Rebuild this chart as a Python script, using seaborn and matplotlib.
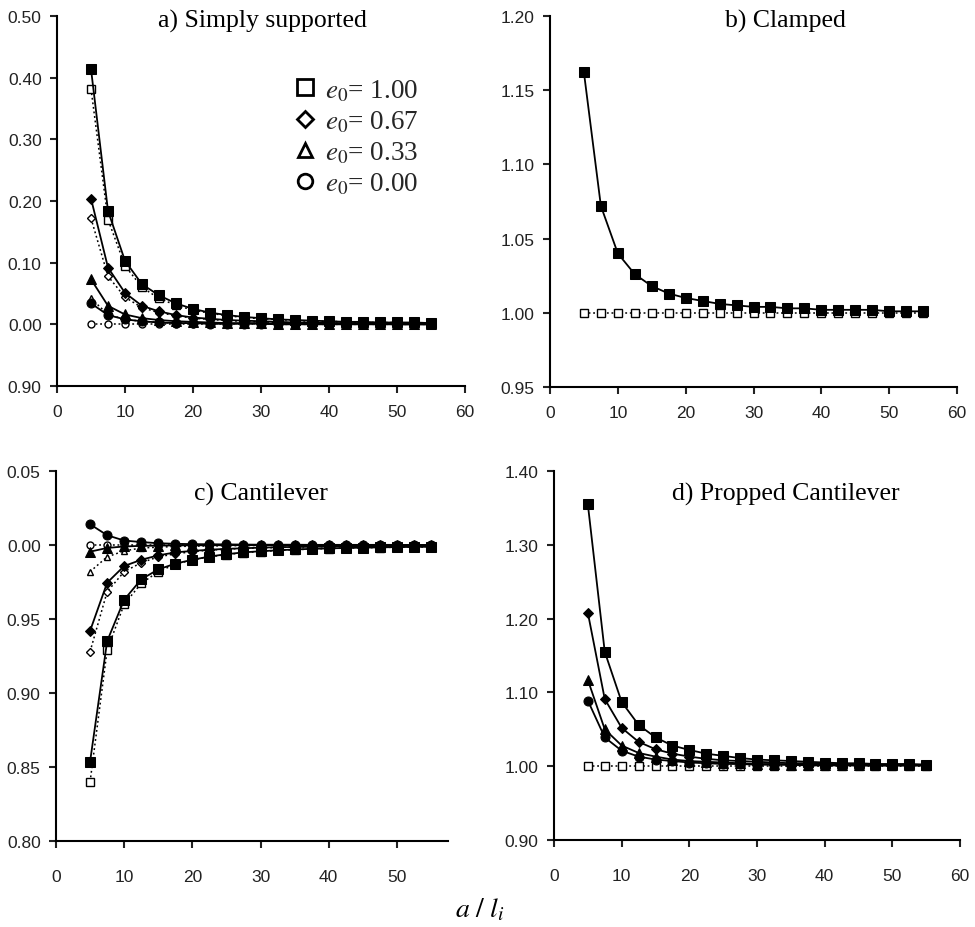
import numpy as np
import pandas as pd
import matplotlib
matplotlib.use("Agg")
import matplotlib.pyplot as plt
import seaborn as sns
from matplotlib.lines import Line2D

sns.set_style("ticks")
plt.rcParams['font.family'] = ['Liberation Sans', 'DejaVu Sans']
plt.rcParams['mathtext.fontset'] = 'stix'

x = [5, 7.5, 10, 12.5, 15, 17.5, 20, 22.5, 25, 27.5, 30, 32.5, 35, 37.5, 40, 42.5, 45, 47.5, 50, 52.5, 55]

# a) Simply supported
a_sq_f = [1.414, 1.184, 1.103, 1.065, 1.047, 1.034, 1.025, 1.019, 1.015, 1.012, 1.010, 1.008, 1.007, 1.006, 1.005, 1.004, 1.004, 1.003, 1.003, 1.003, 1.002]
a_sq_o = [1.382, 1.170, 1.095, 1.060, 1.042, 1.031, 1.023, 1.018, 1.014, 1.011, 1.009, 1.008, 1.006, 1.005, 1.005, 1.004, 1.003, 1.003, 1.003, 1.002, 1.002]
a_di_f = [1.204, 1.092, 1.051, 1.030, 1.021, 1.015, 1.011, 1.009, 1.007, 1.006, 1.005, 1.004, 1.003, 1.003, 1.002, 1.002, 1.002, 1.002, 1.001, 1.001, 1.001]
a_di_o = [1.172, 1.078, 1.044, 1.027, 1.019, 1.014, 1.010, 1.008, 1.006, 1.005, 1.004, 1.003, 1.003, 1.002, 1.002, 1.002, 1.002, 1.001, 1.001, 1.001, 1.001]
a_tr_f = [1.073, 1.030, 1.016, 1.010, 1.007, 1.005, 1.004, 1.003, 1.002, 1.002, 1.002, 1.001, 1.001, 1.001, 1.001, 1.001, 1.001, 1.001, 1.000, 1.000, 1.000]
a_tr_o = [1.042, 1.016, 1.008, 1.005, 1.003, 1.002, 1.002, 1.001, 1.001, 1.001, 1.001, 1.000, 1.000, 1.000, 1.000, 1.000, 1.000, 1.000, 1.000, 1.000, 1.000]
a_ci_f = [1.034, 1.015, 1.008, 1.005, 1.003, 1.002, 1.002, 1.001, 1.001, 1.001, 1.001, 1.000, 1.000, 1.000, 1.000, 1.000, 1.000, 1.000, 1.000, 1.000, 1.000]
a_ci_o = [1.000] * 21

# b) Clamped
b_sq_f = [1.162, 1.072, 1.040, 1.026, 1.018, 1.013, 1.010, 1.008, 1.006, 1.005, 1.004, 1.004, 1.003, 1.003, 1.002, 1.002, 1.002, 1.002, 1.001, 1.001, 1.001]
b_sq_o = [1.000] * 21

# c) Cantilever
c_ci_f = [1.014, 1.0066, 1.003, 1.002, 1.0012, 1.0008, 1.0006, 1.0005, 1.0004, 1.0003, 1.0002, 1.0002, 1.0002, 1.0001, 1.0001, 1.0001, 1.0001, 1.0001, 1.0001, 1.0000, 1.0000]
c_ci_o = [1.000] * 21
c_tr_f = [0.9955, 0.998, 0.999, 0.9994, 0.9996, 0.9997, 0.9998, 0.9998, 0.9999, 0.9999, 0.9999, 0.9999, 0.9999, 0.9999, 1.0, 1.0, 1.0, 1.0, 1.0, 1.0, 1.0]
c_tr_o = [0.982, 0.992, 0.996, 0.998, 0.9985, 0.999, 0.9992, 0.9994, 0.9995, 0.9996, 0.9997, 0.9997, 0.9998, 0.9998, 0.9998, 0.9999, 0.9999, 0.9999, 0.9999, 0.9999, 0.9999]
c_di_f = [0.942, 0.9745, 0.9858, 0.990, 0.993, 0.995, 0.996, 0.9968, 0.9974, 0.9978, 0.9982, 0.9985, 0.9987, 0.9988, 0.999, 0.9991, 0.9992, 0.9993, 0.9993, 0.9994, 0.9995]
c_di_o = [0.928, 0.9684, 0.982, 0.988, 0.992, 0.994, 0.9955, 0.9965, 0.9972, 0.9977, 0.998, 0.9983, 0.9986, 0.9987, 0.9989, 0.999, 0.9991, 0.9992, 0.9993, 0.9994, 0.9994]
c_sq_f = [0.8537, 0.935, 0.963, 0.9768, 0.9835, 0.9874, 0.990, 0.9922, 0.9938, 0.995, 0.9958, 0.9964, 0.997, 0.9974, 0.9977, 0.998, 0.9982, 0.9984, 0.9986, 0.9987, 0.9988]
c_sq_o = [0.840, 0.929, 0.960, 0.974, 0.982, 0.987, 0.990, 0.992, 0.9935, 0.9948, 0.9956, 0.9963, 0.9968, 0.9973, 0.9976, 0.9979, 0.9981, 0.9983, 0.9985, 0.9986, 0.9987]

# d) Propped Cantilever
d_sq_f = [1.355, 1.155, 1.087, 1.056, 1.039, 1.028, 1.022, 1.017, 1.014, 1.011, 1.009, 1.008, 1.007, 1.006, 1.005, 1.004, 1.004, 1.003, 1.003, 1.003, 1.002]
d_di_f = [1.208, 1.091, 1.052, 1.033, 1.023, 1.017, 1.013, 1.010, 1.008, 1.007, 1.006, 1.005, 1.004, 1.004, 1.003, 1.003, 1.002, 1.002, 1.002, 1.002, 1.002]
d_tr_f = [1.117, 1.050, 1.028, 1.018, 1.013, 1.009, 1.007, 1.006, 1.005, 1.004, 1.003, 1.003, 1.002, 1.002, 1.002, 1.002, 1.001, 1.001, 1.001, 1.001, 1.001]
d_ci_f = [1.089, 1.039, 1.021, 1.013, 1.009, 1.007, 1.005, 1.004, 1.003, 1.003, 1.002, 1.002, 1.002, 1.001, 1.001, 1.001, 1.001, 1.001, 1.001, 1.001, 1.001]
d_sq_o = [1.000] * 21

titles = ["a) Simply supported", "b) Clamped", "c) Cantilever", "d) Propped Cantilever"]
a_yticks = [0.90, 1.00, 1.10, 1.20, 1.30, 1.40, 1.50]
a_ylabels = ["0.90", "0.00", "0.10", "0.20", "0.30", "0.40", "0.50"]
b_yticks = [0.95, 1.00, 1.05, 1.10, 1.15, 1.20]
b_ylabels = ["0.95", "1.00", "1.05", "1.10", "1.15", "1.20"]
c_yticks = [0.80, 0.85, 0.90, 0.95, 1.00, 1.05]
c_ylabels = ["0.80", "0.85", "0.90", "0.95", "0.00", "0.05"]
d_yticks = [0.90, 1.00, 1.10, 1.20, 1.30, 1.40]
d_ylabels = ["0.90", "1.00", "1.10", "1.20", "1.30", "1.40"]
legend_labels = [r"$e_{\mathit{0}}$= 1.00", r"$e_{\mathit{0}}$= 0.67",
                 r"$e_{\mathit{0}}$= 0.33", r"$e_{\mathit{0}}$= 0.00"]

W, H = 975, 928
fig = plt.figure(figsize=(W / 100, H / 100), dpi=100)

def box(l, r, t, b):
    return [l / W, 1 - b / H, (r - l) / W, (b - t) / H]

axA = fig.add_axes(box(57, 465, 17, 387))
axB = fig.add_axes(box(550, 957, 17, 388))
axC = fig.add_axes(box(56, 448, 472, 842))
axD = fig.add_axes(box(554, 960, 472, 841))

msz = {'s': 7.5, 'D': 5.0, '^': 6.5, 'o': 6.5}
osz = {'s': 5.5, 'D': 4.0, '^': 5.0, 'o': 5.0}

def filled(ax, y, m):
    sns.lineplot(x=x, y=y, ax=ax, color='black', lw=1.3, marker=m, markersize=msz[m],
                 markerfacecolor='black', markeredgecolor='black', zorder=4)

def opened(ax, y, m):
    sns.lineplot(x=x, y=y, ax=ax, color='black', lw=1.1, linestyle=(0, (1.2, 1.8)), marker=m,
                 markersize=osz[m], markerfacecolor='white', markeredgecolor='black',
                 markeredgewidth=1.0, zorder=3)

for yv, m in [(a_ci_o, 'o'), (a_tr_o, '^'), (a_di_o, 'D'), (a_sq_o, 's')]:
    opened(axA, yv, m)
for yv, m in [(a_ci_f, 'o'), (a_tr_f, '^'), (a_di_f, 'D'), (a_sq_f, 's')]:
    filled(axA, yv, m)

opened(axB, b_sq_o, 's')
filled(axB, b_sq_f, 's')

for yv, m in [(c_ci_o, 'o'), (c_tr_o, '^'), (c_di_o, 'D'), (c_sq_o, 's')]:
    opened(axC, yv, m)
for yv, m in [(c_ci_f, 'o'), (c_tr_f, '^'), (c_di_f, 'D'), (c_sq_f, 's')]:
    filled(axC, yv, m)

opened(axD, d_sq_o, 's')
for yv, m in [(d_ci_f, 'o'), (d_tr_f, '^'), (d_di_f, 'D'), (d_sq_f, 's')]:
    filled(axD, yv, m)

cfg = [
    (axA, a_yticks, a_ylabels, (0.90, 1.50), (0, 60), [0, 10, 20, 30, 40, 50, 60], 8),
    (axB, b_yticks, b_ylabels, (0.95, 1.20), (0, 60), [0, 10, 20, 30, 40, 50, 60], 8),
    (axC, c_yticks, c_ylabels, (0.80, 1.05), (0, 57.5), [0, 10, 20, 30, 40, 50], 15),
    (axD, d_yticks, d_ylabels, (0.90, 1.40), (0, 60), [0, 10, 20, 30, 40, 50, 60], 15),
]
for ax, yt, yl, ylim, xlim, xt, xpad in cfg:
    ax.set_ylim(*ylim)
    ax.set_xlim(*xlim)
    ax.set_yticks(yt)
    ax.set_yticklabels(yl)
    ax.set_xticks(xt)
    ax.set_xticklabels([str(v) for v in xt])
    ax.set_xlabel("")
    ax.set_ylabel("")
    sns.despine(ax=ax)
    for s in ['left', 'bottom']:
        ax.spines[s].set_linewidth(1.5)
        ax.spines[s].set_color('black')
    ax.tick_params(axis='both', colors='#222222', labelsize=12.5, width=1.5, length=5)
    ax.tick_params(axis='x', pad=xpad)
    ax.tick_params(axis='y', pad=6)
    ax.set_facecolor('white')

tfont = dict(family=['Liberation Serif', 'DejaVu Serif'], fontsize=18.5, color='black', va='center', ha='center')
fig.text(262 / W, 1 - 21 / H, titles[0], **tfont)
fig.text(785 / W, 1 - 21 / H, titles[1], **tfont)
fig.text(261 / W, 1 - 494 / H, titles[2], **tfont)
fig.text(786 / W, 1 - 494 / H, titles[3], **tfont)

# legend
handles = [Line2D([], [], linestyle='none', marker=m, markersize=s, markerfacecolor='white',
                  markeredgecolor='black', markeredgewidth=2.0)
           for m, s in [('s', 11), ('D', 8.5), ('^', 10), ('o', 10.5)]]
leg = axA.legend(handles, legend_labels, loc='upper left', bbox_to_anchor=(0.522, 0.90),
                 frameon=False, handlelength=0.8, handletextpad=0.35, labelspacing=0.2,
                 prop={'family': ['Liberation Serif', 'DejaVu Serif'], 'size': 19.5})

fig.text(480 / W, 1 - 910 / H, r"$a\ /\ l_i$", fontsize=20, ha='center', va='center', color='black')

fig.savefig("out.png", dpi=100, facecolor='white')
